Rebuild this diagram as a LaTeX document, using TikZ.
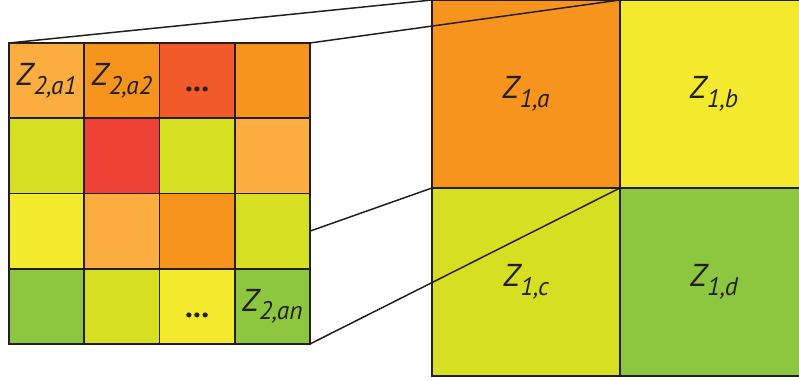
\documentclass[tikz,border=0pt]{standalone}
\usepackage{fontspec}
\setmainfont{PT Sans}
\usetikzlibrary{positioning}
\definecolor{cellpeach}{HTML}{FBAE3F}
\definecolor{cellorange}{HTML}{F7941D}
\definecolor{cellflame}{HTML}{F15A29}
\definecolor{cellred}{HTML}{EF4136}
\definecolor{celllime}{HTML}{D7DF23}
\definecolor{cellyellow}{HTML}{F3EA2E}
\definecolor{cellgreen}{HTML}{8DC63F}
\definecolor{inkgray}{HTML}{231F20}
\newcommand{\zlab}[1]{{\itshape Z\kern0.02em\raisebox{-5pt}{\fontsize{14.5}{14.5}\selectfont #1}}}
\newcommand{\celldots}{{\vphantom{Z}\bfseries...}}

\begin{document}
\begin{tikzpicture}[x=0.02cm,y=0.02cm,
	smallcell/.style={draw=inkgray, line width=1pt, minimum size=1.505cm, inner sep=0pt, outer sep=0pt,
		font=\fontsize{18}{21}\selectfont, text=inkgray},
	bigcell/.style={smallcell, minimum size=3.76cm},
	zoomline/.style={draw=inkgray, line width=0.85pt}]
	\clip (0,0) rectangle (799,381);
	% rejilla fina (4x4)
	\foreach \c/\t [count=\k from 0] in {cellpeach/{\zlab{2,a1}}, cellorange/{\zlab{2,a2}}, cellflame/\celldots, cellorange/{},
		celllime/{}, cellred/{}, celllime/{}, cellpeach/{},
		cellyellow/{}, cellpeach/{}, cellorange/{}, celllime/{},
		cellgreen/{}, celllime/{}, cellyellow/\celldots, cellgreen/{\zlab{2,an}}} {
		\pgfmathtruncatemacro\row{div(\k,4)+1}
		\pgfmathtruncatemacro\col{mod(\k,4)+1}
		\node[smallcell, fill=\c] (s\row\col) at ({9+75.25*(\col-0.5)}, {338-75.25*(\row-0.5)}) {\t};
	}
	% rejilla gruesa (2x2)
	\node[bigcell, fill=cellorange] (ra) at (526,287) {\zlab{1,a}};
	\node[bigcell, fill=cellyellow, right=0pt of ra] (rb) {\zlab{1,b}};
	\node[bigcell, fill=celllime, below=0pt of ra] (rc) {\zlab{1,c}};
	\node[bigcell, fill=cellgreen, right=0pt of rc] (rd) {\zlab{1,d}};
	% lineas de proyeccion
	\draw[zoomline] (s11.north west) -- (ra.north west);
	\draw[zoomline] (s14.north east) -- (ra.north east);
	\draw[zoomline] (s34.east) -- (rc.north west);
	\draw[zoomline] (s44.south east) -- (rc.north east);
\end{tikzpicture}
\end{document}
